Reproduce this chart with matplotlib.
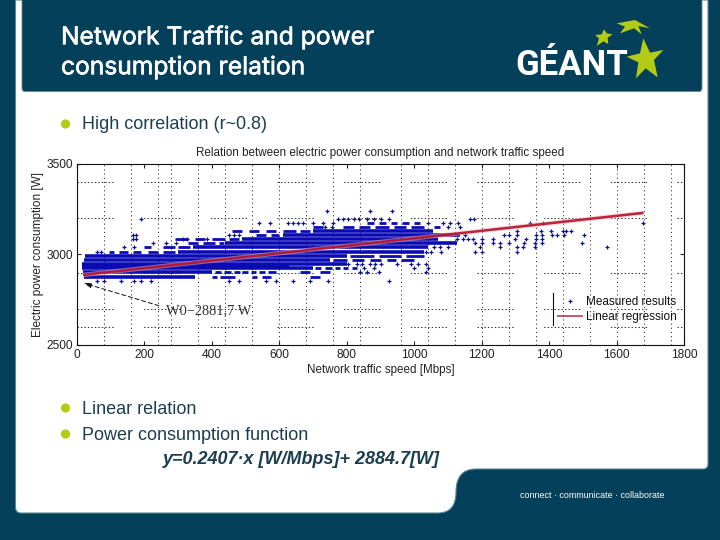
import matplotlib
matplotlib.use("Agg")
import matplotlib.pyplot as plt
import matplotlib.patheffects as pe
from matplotlib.path import Path
from matplotlib.patches import PathPatch, Circle, Polygon
from matplotlib.lines import Line2D

# ---------- text ----------
title_lines = ["Network Traffic and power", "consumption relation"]
bullets = ["High correlation (r~0.8)", "Linear relation", "Power consumption function"]
equation = "y=0.2407\u00b7x [W/Mbps]+ 2884.7[W]"
tagline = "connect \u00b7 communicate \u00b7 collaborate"
chart_title = "Relation between electric power consumption and network traffic speed"
x_label = "Network traffic speed [Mbps]"
y_label = "Electric power consumption [W]"
note = "W0\u22122881,7 W"

# ---------- axis values ----------
x_ticks = [0, 200, 400, 600, 800, 1000, 1200, 1400, 1600, 1800]
y_ticks = [2500, 3000, 3500]
grid_x = [80, 160, 240, 280, 360, 440, 520, 600, 680, 760, 840, 960, 1040,
          1120, 1200, 1280, 1360, 1440, 1520, 1600, 1680, 1760]
grid_y = [2600, 2700, 2900, 3200, 3400]

# ---------- measured results: solid runs along the discrete power levels ----------
run_level = [2878, 2901, 2924, 2935, 2947, 2970, 2993, 3016, 3039, 3062, 3085, 3108, 3131]
run_start = [20, 18, 16, 16, 16, 20, 25, 300, 345, 440, 490, 610, 700]
run_end = [350, 400, 700, 630, 800, 750, 800, 1030, 1040, 1126, 1070, 1136, 1057]

# ---------- measured results: broken runs, thinner ----------
dash_level = [3172] * 5 + [3154] * 7 + [3131] * 5 + [3108] * 2 + [3085] * 4 + [3062] * 3 + [3039] * 3 \
    + [3016] * 5 + [2993] * 3 + [2970] * 5 + [2924] * 5 + [2901] * 9 + [2878] * 5
dash_start = [860, 895, 930, 965, 1000,
              700, 790, 835, 885, 940, 990, 1060,
              460, 510, 560, 610, 660,
              530, 575,
              290, 350, 400, 450,
              330, 375, 420,
              200, 255, 300,
              95, 125, 165, 210, 255,
              810, 895, 975,
              760, 815, 870, 920, 960,
              705, 735, 765, 790, 815,
              410, 435, 465, 490, 515, 540, 565, 660, 720,
              400, 425, 520, 550, 690]
dash_end = [880, 915, 950, 985, 1017,
            730, 820, 870, 925, 975, 1030, 1075,
            490, 540, 590, 650, 690,
            560, 600,
            330, 380, 440, 480,
            360, 410, 435,
            220, 290, 335,
            110, 150, 190, 240, 290,
            880, 960, 1030,
            800, 850, 900, 945, 1000,
            725, 755, 780, 805, 830,
            428, 458, 482, 508, 532, 558, 590, 690, 750,
            415, 470, 535, 575, 720]

# ---------- measured results: isolated readings, by power level ----------
sparse_levels = [3242, 3195, 3172, 3154, 3131, 3108, 3085, 3062, 3039, 3016, 2947, 2924, 2901, 2855]
sparse_rows = [
    [742, 870, 935],
    [190, 775, 790, 805, 820, 835, 860, 880, 900, 925, 1166, 1176],
    [540, 572, 625, 640, 655, 670, 700, 730, 760, 1040, 1085, 1105, 1130, 1344, 1383, 1678],
    [735, 755, 1100, 1135],
    [1304, 1375, 1405, 1440, 1450, 1465],
    [165, 175, 450, 465, 480, 1150, 1265, 1280, 1304, 1360, 1380, 1408, 1424, 1443, 1502],
    [165, 175, 315, 325, 385, 1126, 1146, 1160, 1175, 1200, 1235, 1300, 1330, 1360, 1380],
    [225, 265, 295, 1180, 1200, 1235, 1255, 1280, 1325, 1358, 1380, 1497],
    [140, 170, 1060, 1075, 1100, 1195, 1255, 1304, 1324, 1358, 1572],
    [60, 70, 1035, 1050, 1080, 1180, 1200, 1304],
    [805, 830, 845, 870, 885, 900, 950, 990, 1010, 1035],
    [850, 880, 1000, 1040],
    [840, 860, 895, 1035],
    [60, 80, 130, 170, 190, 220, 450, 480, 560, 590, 640, 690, 745, 925],
]

# ---------- linear regression, as drawn ----------
reg_x = [18, 1680]
reg_y = [2887, 3230]

# ---------- colours ----------
DARK = "#04405a"
TEXT = "#1c3f50"
LIME = "#b3cb14"
BLUE = "#0b0bb4"
RED = "#b3122c"

plt.rcParams["font.family"] = ["Liberation Sans", "DejaVu Sans"]
plt.rcParams["lines.scale_dashes"] = False
fig = plt.figure(figsize=(7.2, 5.4), dpi=100, facecolor=DARK)

# ---------- slide background, in pixel units ----------
bg = fig.add_axes([0, 0, 1, 1])
bg.set_xlim(0, 720)
bg.set_ylim(540, 0)
bg.axis("off")

M, L, C = Path.MOVETO, Path.LINETO, Path.CURVE3
panel_v = [(15.5, 0), (15.5, 507), (15.5, 513), (21, 513), (438, 513), (456, 513), (456, 492),
           (456, 469), (476, 469), (703, 469), (708, 469), (708, 464), (708, 0), (15.5, 0)]
panel_c = [M, L, C, C, L, C, C, C, C, L, C, C, L, Path.CLOSEPOLY]
bg.add_patch(PathPatch(Path(panel_v, panel_c), fc="white", ec="#5d8796", lw=0.8))
head_v = [(22, -2), (22, 88), (22, 91.5), (25, 91.5), (699, 91.5), (702, 91.5), (702, 88), (702, -2), (22, -2)]
head_c = [M, L, C, C, L, C, C, L, Path.CLOSEPOLY]
bg.add_patch(PathPatch(Path(head_v, head_c), fc=DARK, ec="#5d8796", lw=0.6))

for yy, line in zip((37.5, 67.5), title_lines):
    t = bg.text(61, yy, line, color="white", fontsize=17.7, va="center", ha="left", family="Inter")
    t.set_path_effects([pe.withStroke(linewidth=0.45, foreground="white")])

for yy, dot_y, line in zip((124.5, 409, 435), (124, 408, 434), bullets):
    bg.add_patch(Circle((65.5, dot_y), 4.6, fc=LIME, ec="none"))
    bg.text(82, yy, line, color=TEXT, fontsize=12.95, va="center", ha="left")
bg.text(163, 459.5, equation, color=TEXT, fontsize=13.0, va="center", ha="left",
        fontweight="bold", fontstyle="italic")
bg.text(520, 495, tagline, color="white", fontsize=6.4, va="center", ha="left")

# logo
bg.text(515, 75, "G\u00c9ANT", color="white", fontsize=25, fontweight="bold", va="baseline", ha="left",
        family="Roboto")


def zoomed(points):
    return [(480 + a / 3, b / 3) for a, b in points]


stars = [
    [(490, 115), (510, 158), (550, 150), (522, 180), (533, 232), (497, 205), (468, 235), (475, 187), (440, 170), (480, 160)],
    [(372, 88), (380, 100), (398, 103), (383, 113), (385, 132), (370, 124), (350, 138), (357, 115), (345, 105), (365, 103)],
    [(410, 70), (465, 60), (510, 85), (475, 78), (485, 103), (462, 85), (420, 100), (435, 80)],
]
for star in stars:
    bg.add_patch(Polygon(zoomed(star), closed=True, fc=LIME, ec="none"))

# ---------- chart ----------
ax = fig.add_axes([77 / 720, 1 - 345 / 540, (684 - 77) / 720, (345 - 164) / 540])
ax.set_facecolor("white")
ax.set_xlim(0, 1800)
ax.set_ylim(2500, 3500)

grid_pattern = (0, (1, 1.5) * 10 + (1, 22))
for gx in grid_x:
    ax.axvline(gx, color="#333333", lw=0.75, ls=(0, (0.8, 2.2)), zorder=1)
for gy in grid_y:
    ax.axhline(gy, color="#333333", lw=0.75, ls=grid_pattern, zorder=1)

ax.hlines(run_level, run_start, run_end, color=BLUE, lw=2.6, zorder=2, capstyle="butt")
ax.hlines(dash_level, dash_start, dash_end, color=BLUE, lw=2.0, zorder=2, capstyle="butt")
sparse_x = [v for row in sparse_rows for v in row]
sparse_y = [lvl for lvl, row in zip(sparse_levels, sparse_rows) for _ in row]
points, = ax.plot(sparse_x, sparse_y, ls="none", marker="+", ms=2.6, mew=0.9, color="#10108c",
                  zorder=2, label="Measured results")
ax.plot(reg_x, reg_y, color="#f0b4b8", lw=3.2, alpha=0.55, zorder=3, solid_capstyle="butt")
reg_line, = ax.plot(reg_x, reg_y, color=RED, lw=1.8, alpha=0.9, zorder=4, solid_capstyle="butt",
                    label="Linear regression")

ax.annotate("", xy=(20, 2842), xytext=(243, 2717),
            arrowprops=dict(arrowstyle="-|>,head_length=0.45,head_width=0.15", color="#111111", lw=0.7,
                            ls=(0, (3, 2)), shrinkA=0, shrinkB=0), zorder=5)
ax.text(265, 2690, note, family="Liberation Serif", fontsize=10.4, color="#333333", va="center", ha="left", zorder=5)

ax.set_xticks(x_ticks)
ax.set_yticks(y_ticks)
ax.tick_params(direction="in", length=3, width=0.8, labelsize=8.6, pad=3, top=True, right=True, colors="#222222")
ax.set_title(chart_title, fontsize=8.35, color="#222222", pad=6, x=0.499)
ax.set_xlabel(x_label, fontsize=8.4, color="#222222", labelpad=2)
ax.set_ylabel(y_label, fontsize=8.5, color="#222222", labelpad=2)
for s in ax.spines.values():
    s.set_linewidth(0.8)
    s.set_color("#111111")

leg = ax.legend(handles=[points, reg_line], loc="lower left", bbox_to_anchor=(0.7915, 0.12),
                frameon=False, fontsize=8.5, handlelength=2.2, handletextpad=0.2, labelspacing=0.25,
                borderpad=0, borderaxespad=0)
for t in leg.get_texts():
    t.set_color("#111111")
leg.get_lines()[1].set_linewidth(1.1)
ax.add_line(Line2D([0.784, 0.784], [0.11, 0.29], transform=ax.transAxes, color="#111111", lw=0.8, zorder=6))

fig.savefig("out.png", dpi=100, facecolor=DARK)
